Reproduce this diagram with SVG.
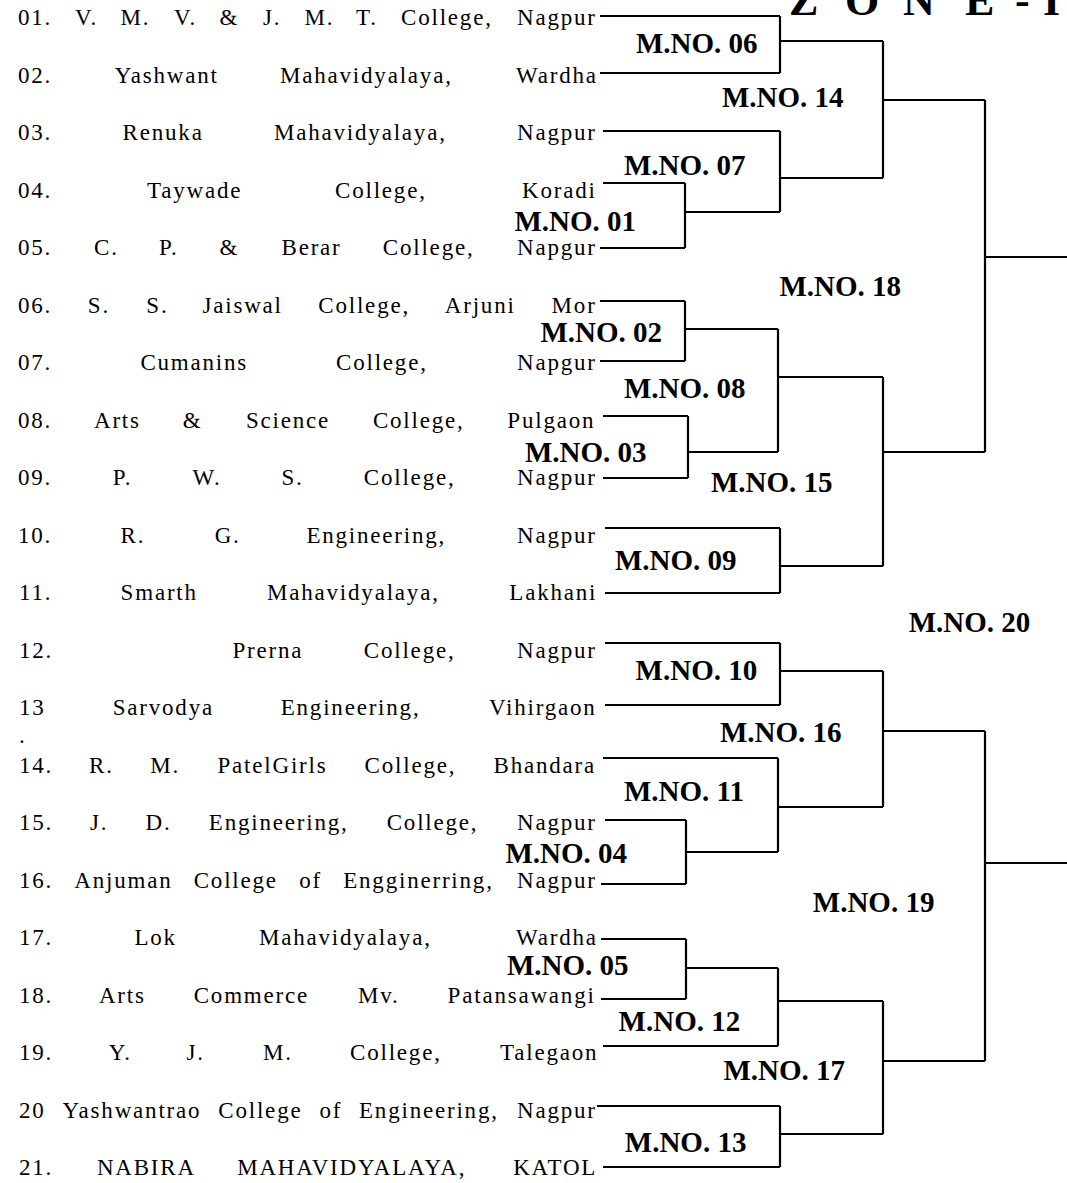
<svg xmlns="http://www.w3.org/2000/svg" width="1067" height="1183" viewBox="0 0 1067 1183">
<style>
.t{font-family:"Liberation Serif","Times New Roman",serif;font-size:23px;letter-spacing:1.8px;fill:#000}
.m{font-family:"Liberation Serif","Times New Roman",serif;font-size:29px;font-weight:bold;fill:#000}
.z{font-family:"Liberation Serif","Times New Roman",serif;font-size:44px;font-weight:bold;fill:#000}
.c{fill:none;stroke:#000;stroke-width:2.2}
</style>
<rect width="1067" height="1183" fill="#fff"/>
<g id="title"><text class="z" x="789 820 845 875 903 937 965 993 1015 1043" y="15">Z O N E -I</text></g>
<g id="teams">
<g id="team-01"><text class="t" y="25"><tspan x="18">01.</tspan><tspan x="75">V.</tspan><tspan x="120.6">M.</tspan><tspan x="174">V.</tspan><tspan x="219.5">&amp;</tspan><tspan x="263">J.</tspan><tspan x="304.5">M.</tspan><tspan x="356">T.</tspan><tspan x="401">College,</tspan><tspan x="517">Nagpur</tspan></text></g>
<g id="team-02"><text class="t" y="82.5"><tspan x="18">02.</tspan><tspan x="114.7">Yashwant</tspan><tspan x="280">Mahavidyalaya,</tspan><tspan x="516">Wardha</tspan></text></g>
<g id="team-03"><text class="t" y="140"><tspan x="18">03.</tspan><tspan x="122.6">Renuka</tspan><tspan x="274">Mahavidyalaya,</tspan><tspan x="517">Nagpur</tspan></text></g>
<g id="team-04"><text class="t" y="197.5"><tspan x="18">04.</tspan><tspan x="147">Taywade</tspan><tspan x="335">College,</tspan><tspan x="522">Koradi</tspan></text></g>
<g id="team-05"><text class="t" y="255"><tspan x="18">05.</tspan><tspan x="94">C.</tspan><tspan x="159">P.</tspan><tspan x="219.5">&amp;</tspan><tspan x="281.5">Berar</tspan><tspan x="382.8">College,</tspan><tspan x="517">Napgur</tspan></text></g>
<g id="team-06"><text class="t" y="312.5"><tspan x="18">06.</tspan><tspan x="87.8">S.</tspan><tspan x="146.3">S.</tspan><tspan x="202.5">Jaiswal</tspan><tspan x="318.3">College,</tspan><tspan x="444.8">Arjuni</tspan><tspan x="551.6">Mor</tspan></text></g>
<g id="team-07"><text class="t" y="370"><tspan x="18">07.</tspan><tspan x="140.4">Cumanins</tspan><tspan x="336">College,</tspan><tspan x="517">Napgur</tspan></text></g>
<g id="team-08"><text class="t" y="427.5"><tspan x="18">08.</tspan><tspan x="94">Arts</tspan><tspan x="182.7">&amp;</tspan><tspan x="246">Science</tspan><tspan x="372.9">College,</tspan><tspan x="507.3">Pulgaon</tspan></text></g>
<g id="team-09"><text class="t" y="485"><tspan x="18">09.</tspan><tspan x="112.7">P.</tspan><tspan x="192.6">W.</tspan><tspan x="281.5">S.</tspan><tspan x="363.8">College,</tspan><tspan x="517">Nagpur</tspan></text></g>
<g id="team-10"><text class="t" y="542.5"><tspan x="18">10.</tspan><tspan x="120.6">R.</tspan><tspan x="214.7">G.</tspan><tspan x="306.4">Engineering,</tspan><tspan x="517">Nagpur</tspan></text></g>
<g id="team-11"><text class="t" y="600"><tspan x="19">11.</tspan><tspan x="120.6">Smarth</tspan><tspan x="267">Mahavidyalaya,</tspan><tspan x="509.3">Lakhani</tspan></text></g>
<g id="team-12"><text class="t" y="657.5"><tspan x="19">12.</tspan><tspan x="232.5">Prerna</tspan><tspan x="363.8">College,</tspan><tspan x="517">Nagpur</tspan></text></g>
<g id="team-13"><text class="t" y="715"><tspan x="19">13</tspan><tspan x="112.7">Sarvodya</tspan><tspan x="280.7">Engineering,</tspan><tspan x="489">Vihirgaon</tspan></text><text class="t" x="19" y="743">.</text></g>
<g id="team-14"><text class="t" y="772.5"><tspan x="19">14.</tspan><tspan x="89">R.</tspan><tspan x="150.3">M.</tspan><tspan x="217.5">PatelGirls</tspan><tspan x="364.6">College,</tspan><tspan x="493.5">Bhandara</tspan></text></g>
<g id="team-15"><text class="t" y="830"><tspan x="19">15.</tspan><tspan x="90">J.</tspan><tspan x="145.5">D.</tspan><tspan x="208.8">Engineering,</tspan><tspan x="386.7">College,</tspan><tspan x="517">Nagpur</tspan></text></g>
<g id="team-16"><text class="t" y="887.5"><tspan x="19">16.</tspan><tspan x="74.3">Anjuman</tspan><tspan x="193.7">College</tspan><tspan x="299.3">of</tspan><tspan x="343.2">Engginerring,</tspan><tspan x="517">Nagpur</tspan></text></g>
<g id="team-17"><text class="t" y="945"><tspan x="19">17.</tspan><tspan x="134.4">Lok</tspan><tspan x="259">Mahavidyalaya,</tspan><tspan x="516">Wardha</tspan></text></g>
<g id="team-18"><text class="t" y="1002.5"><tspan x="19">18.</tspan><tspan x="98.9">Arts</tspan><tspan x="193.7">Commerce</tspan><tspan x="357.9">Mv.</tspan><tspan x="447.6">Patansawangi</tspan></text></g>
<g id="team-19"><text class="t" y="1060"><tspan x="19">19.</tspan><tspan x="108.7">Y.</tspan><tspan x="186.6">J.</tspan><tspan x="263">M.</tspan><tspan x="350">College,</tspan><tspan x="500">Talegaon</tspan></text></g>
<g id="team-20"><text class="t" y="1117.5"><tspan x="19">20</tspan><tspan x="62.5">Yashwantrao</tspan><tspan x="218.3">College</tspan><tspan x="319.5">of</tspan><tspan x="359">Engineering,</tspan><tspan x="517">Nagpur</tspan></text></g>
<g id="team-21"><text class="t" y="1175"><tspan x="19">21.</tspan><tspan x="96.9">NABIRA</tspan><tspan x="237.2">MAHAVIDYALAYA,</tspan><tspan x="513.2">KATOL</tspan></text></g>
</g>
<g id="connectors" class="c">
<path d="M600 16H780M600 73H780M780 16V73M780 41H883"/>
<path d="M603 131H780M780 131V212M603 183H685M600 248H685M685 183V248M685 212H780M780 178H883M883 41V178M883 100H985"/>
<path d="M600 301H685M600 361H685M685 301V361M685 329H778M603 416H688M603 478H688M688 416V478M688 452H778M778 329V452M778 377H883"/>
<path d="M605 528H780M605 593H780M780 528V593M780 566H883M883 377V566M883 452H985M985 100V452M985 257H1067"/>
<path d="M605 643H780M605 705H780M780 643V705M780 671H883M603 758H778M778 758V852M605 820H686M601 884H686M686 820V884M686 852H778M778 807H883M883 671V807M883 731H985"/>
<path d="M601 939H686M601 999H686M686 939V999M686 968H778M603 1046H778M778 968V1046M778 1001H883M597 1106H780M603 1167H780M780 1106V1167M780 1134H883M883 1001V1134M883 1061H985M985 731V1061M985 863H1067"/>
</g>
<g id="matches">
<g id="match-06"><text class="m" x="636" y="53">M.NO. 06</text></g>
<g id="match-14"><text class="m" x="722" y="107">M.NO. 14</text></g>
<g id="match-07"><text class="m" x="624" y="175">M.NO. 07</text></g>
<g id="match-01"><text class="m" x="514.5" y="231">M.NO. 01</text></g>
<g id="match-18"><text class="m" x="779.5" y="296">M.NO. 18</text></g>
<g id="match-02"><text class="m" x="540.5" y="341.7">M.NO. 02</text></g>
<g id="match-08"><text class="m" x="624" y="398">M.NO. 08</text></g>
<g id="match-03"><text class="m" x="525" y="461.7">M.NO. 03</text></g>
<g id="match-15"><text class="m" x="711" y="492">M.NO. 15</text></g>
<g id="match-09"><text class="m" x="615" y="570">M.NO. 09</text></g>
<g id="match-20"><text class="m" x="908.7" y="632.3">M.NO. 20</text></g>
<g id="match-10"><text class="m" x="635.6" y="680">M.NO. 10</text></g>
<g id="match-16"><text class="m" x="720" y="742.3">M.NO. 16</text></g>
<g id="match-11"><text class="m" x="624" y="800.7">M.NO. 11</text></g>
<g id="match-04"><text class="m" x="505.4" y="862.7">M.NO. 04</text></g>
<g id="match-19"><text class="m" x="812.8" y="911.7">M.NO. 19</text></g>
<g id="match-05"><text class="m" x="507" y="975">M.NO. 05</text></g>
<g id="match-12"><text class="m" x="618.6" y="1031">M.NO. 12</text></g>
<g id="match-17"><text class="m" x="723.5" y="1080">M.NO. 17</text></g>
<g id="match-13"><text class="m" x="624.8" y="1151.7">M.NO. 13</text></g>
</g>
</svg>
